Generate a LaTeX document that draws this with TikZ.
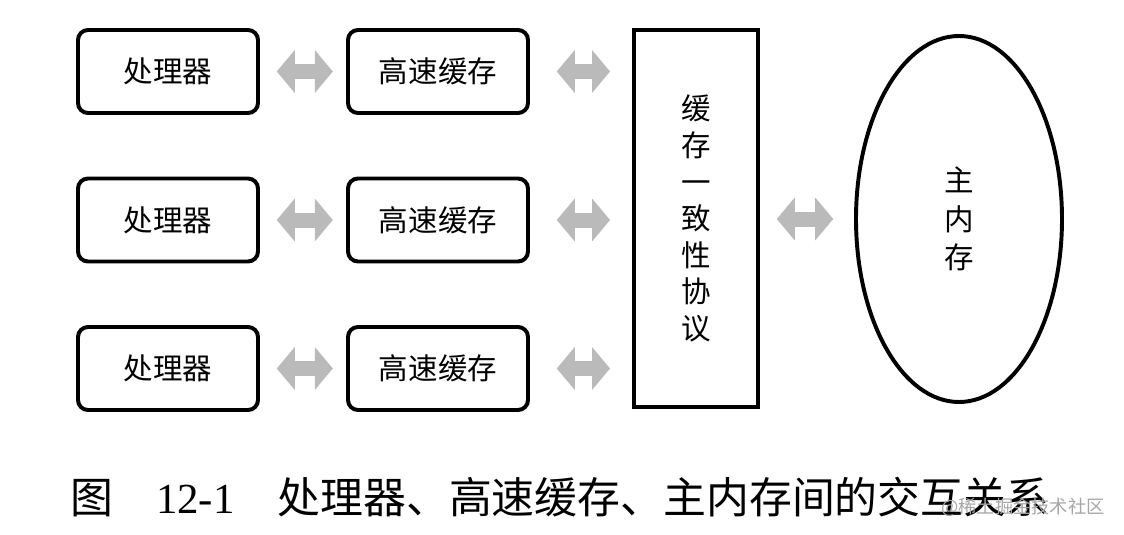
\documentclass[tikz,border=0pt]{standalone}
\usepackage{fontspec}
\setmainfont{Liberation Serif}
\newfontfamily\cjk{Noto Sans CJK SC}
\usetikzlibrary{arrows.meta}
\usetikzlibrary{shapes.geometric}

\begin{document}
\begin{tikzpicture}[
        every node/.style={font=\cjk\fontsize{21}{26}\selectfont},
        caja/.style={draw=black, line width=2.8pt, rounded corners=0.25cm, minimum width=4.5cm, minimum height=2.075cm, inner sep=0pt},
        flecha/.style={draw=black!27, line width=0.375cm, {Triangle[width=1.05cm,length=0.45cm]}-{Triangle[width=1.05cm,length=0.45cm]}},
        texto/.style={align=center, inner sep=0pt}
    ]

        \useasboundingbox (0,0) rectangle (28.1,13.35);

        % -------------------------------------------------
        % 1. Procesadores y caches
        % -------------------------------------------------
        \foreach \fila/\y in {1/11.5625, 2/7.85, 3/4.1375} {
            \node[caja] (proc\fila) at (4.2,\y) {处理器};
            \node[caja] (cache\fila) at (10.95,\y) {高速缓存};
        }

        % -------------------------------------------------
        % 2. Protocolo de coherencia
        % -------------------------------------------------
        \node[draw=black, line width=2.8pt, minimum width=3.1cm, minimum height=9.425cm, texto] (coherencia) at (17.4,7.8875)
            {缓\\存\\一\\致\\性\\协\\议};

        % -------------------------------------------------
        % 3. Memoria principal
        % -------------------------------------------------
        \node[ellipse, draw=black, line width=2.8pt, minimum width=5.15cm, minimum height=9.15cm, texto,
              font=\cjk\fontsize{21}{27.5}\selectfont] (memoria) at (23.975,7.875)
            {主\\内\\存};

        % Flechas
        \foreach \fila in {1,2,3} {
            \draw[flecha, shorten <=0.42cm, shorten >=0.33cm] (proc\fila) -- (cache\fila);
            \draw[flecha, shorten <=0.67cm, shorten >=0.55cm] (cache\fila.east) -- (cache\fila.east -| coherencia.west);
        }
        \draw[flecha, shorten <=0.42cm, shorten >=0.52cm] (coherencia.east |- memoria.west) -- (memoria.west);

        % -------------------------------------------------
        % 4. Pie de figura
        % -------------------------------------------------
        \node[anchor=west, inner sep=0pt, font=\cjk\fontsize{30.5}{34}\selectfont] (pie) at (1.75,0.925)
            {图\hspace{1.0em}{\rmfamily 12-1}\hspace{1.0em}处理器、高速缓存、主内存间的交互关系};
        \node[anchor=east, inner sep=0pt, text=black!35, font=\cjk\fontsize{13}{15}\selectfont] (marca) at (27.625,0.675)
            {@稀土掘金技术社区};

    \end{tikzpicture}
\end{document}
